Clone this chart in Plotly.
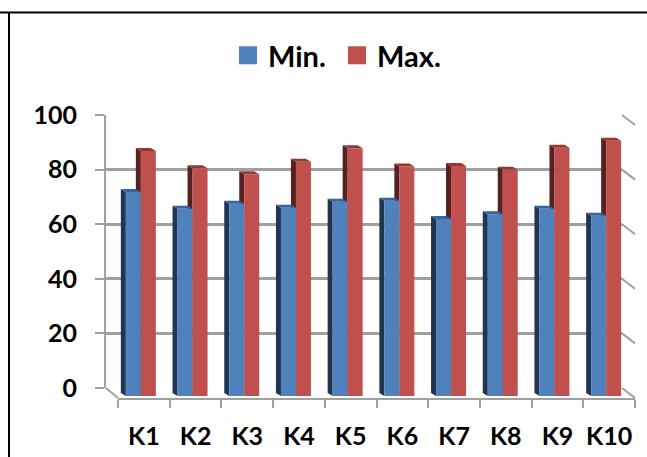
import plotly.graph_objects as go

# --- data ---
categories = ["K1", "K2", "K3", "K4", "K5", "K6", "K7", "K8", "K9", "K10"]
min_values = [72.9, 66.8, 68.6, 67.1, 69.3, 69.7, 63.0, 64.7, 66.8, 64.2]
max_values = [87.9, 81.6, 79.4, 84.0, 88.9, 82.2, 82.4, 81.0, 89.1, 91.7]
y_ticks = [0, 20, 40, 60, 80, 100]

# --- style ---
W, H = 647, 457
FONT = "Lato"
GREY = "#a0a0a0"
BLUE, BLUE_SIDE, BLUE_TOP = "#4f81bd", "#1f3552", "#36639a"
RED, RED_SIDE, RED_TOP = "#c0504d", "#562120", "#8f3a38"
BAR_FLOOR = -1.83
PITCH = 51.7
BAR_W = 15 / PITCH
DX, DY = 5 / PITCH, 3 / 2.73


def px(v):
    return v / W


def py(v):
    return 1 - v / H


def side_and_top(values, x0_off, x1_off):
    sx, sy, tx, ty = [], [], [], []
    for i, v in enumerate(values):
        x0, x1 = i + x0_off, i + x1_off
        sx += [x0, x0 - DX, x0 - DX, x0, x0, None]
        sy += [v, v + DY, BAR_FLOOR + DY, BAR_FLOOR, v, None]
        tx += [x0, x1, x1 - DX, x0 - DX, x0, None]
        ty += [v, v, v + DY, v + DY, v, None]
    return sx, sy, tx, ty


fig = go.Figure()

# back wall subplot carries the gridlines and the legend entries
for name, color in [("Min.", BLUE), ("Max.", RED)]:
    fig.add_trace(go.Scatter(x=[None], y=[None], mode="markers", name=name,
                             marker=dict(symbol="square", size=16, color=color,
                                         line=dict(width=2, color=color)),
                             xaxis="x", yaxis="y"))

# 3D depth faces
for values, off0, off1, side, top in [
    (max_values, 0, BAR_W, RED_SIDE, RED_TOP),
    (min_values, -BAR_W, 0, BLUE_SIDE, BLUE_TOP),
]:
    sx, sy, tx, ty = side_and_top(values, off0, off1)
    for xs, ys, c in [(sx, sy, side), (tx, ty, top)]:
        fig.add_trace(go.Scatter(x=xs, y=ys, mode="lines", fill="toself", fillcolor=c,
                                 line=dict(width=0, color=c), hoverinfo="skip",
                                 showlegend=False, xaxis="x2", yaxis="y2", cliponaxis=False))

# front faces
xs = list(range(len(categories)))
fig.add_trace(go.Bar(x=xs, y=[v - BAR_FLOOR for v in min_values], base=BAR_FLOOR, marker_color=BLUE,
                     marker_line_width=0, showlegend=False, xaxis="x3", yaxis="y3", name="Min."))
fig.add_trace(go.Bar(x=xs, y=[v - BAR_FLOOR for v in max_values], base=BAR_FLOOR, marker_color=RED,
                     marker_line_width=0, showlegend=False, xaxis="x3", yaxis="y3", name="Max."))

# category axis carrier
fig.add_trace(go.Scatter(x=categories, y=[None] * len(categories), mode="markers",
                         showlegend=False, xaxis="x4", yaxis="y4"))

bar_dom_x = [px(115), px(632)]
bar_dom_y = [py(396), py(118)]
hidden = dict(visible=False, fixedrange=True)

fig.update_layout(
    width=W, height=H, autosize=False,
    margin=dict(l=0, r=0, t=0, b=0, autoexpand=False),
    paper_bgcolor="white", plot_bgcolor="rgba(0,0,0,0)",
    font=dict(family=FONT, color="black", size=24),
    barmode="group", bargap=0.42, bargroupgap=0,
    showlegend=True,
    legend=dict(orientation="h", x=px(228), y=py(30), xanchor="left", yanchor="top",
                font=dict(family=FONT, size=29, weight="bold"), itemsizing="trace",
                entrywidth=64, entrywidthmode="pixels",
                bgcolor="rgba(0,0,0,0)", traceorder="normal"),
    xaxis=dict(domain=[px(106), px(622)], range=[0, 1], visible=False),
    yaxis=dict(domain=[py(388), py(115)], range=[0, 100], tickvals=y_ticks,
               showgrid=True, gridcolor=GREY, gridwidth=2.5, zeroline=False,
               showline=True, linecolor=GREY, linewidth=2,
               ticks="outside", ticklen=9, tickwidth=2, tickcolor=GREY,
               tickfont=dict(family=FONT, size=25, weight="bold"), ticklabelstandoff=13,
               anchor="x"),
    xaxis2=dict(domain=bar_dom_x, range=[-0.5, 9.5], **hidden),
    yaxis2=dict(domain=bar_dom_y, range=[BAR_FLOOR, 100], **hidden),
    xaxis3=dict(domain=bar_dom_x, range=[-0.5, 9.5], **hidden),
    yaxis3=dict(domain=bar_dom_y, range=[BAR_FLOOR, 100], **hidden),
    xaxis4=dict(domain=[px(118), px(635)], type="category", categoryorder="array",
                categoryarray=categories, range=[-0.5, 9.5], tickson="boundaries",
                ticks="outside", ticklen=8, tickwidth=2, tickcolor=GREY,
                showline=True, linecolor=GREY, linewidth=2, showgrid=False, tickangle=0,
                tickfont=dict(family=FONT, size=25, weight="bold"), ticklabelstandoff=15,
                anchor="y4"),
    yaxis4=dict(domain=[py(398), py(380)], range=[0, 1], visible=False),
)

# perspective connectors and frame
LINE = dict(color=GREY, width=2)
for t in y_ticks:
    y0 = 388 - 2.73 * t
    fig.add_shape(type="line", xref="paper", yref="paper", x0=px(622), x1=px(635),
                  y0=py(y0), y1=py(y0 + 10), line=LINE, layer="below")
fig.add_shape(type="line", xref="paper", yref="paper", x0=px(106), x1=px(118),
              y0=py(388), y1=py(398), line=LINE, layer="below")
fig.add_shape(type="line", xref="paper", yref="paper", x0=0, x1=1, y0=py(12.5), y1=py(12.5),
              line=dict(color="black", width=2))
fig.add_shape(type="line", xref="paper", yref="paper", x0=px(9), x1=px(9), y0=py(12), y1=0,
              line=dict(color="black", width=2))

fig.write_html("out.html", post_script="document.body.style.margin='0';",
               config={"displayModeBar": False})
